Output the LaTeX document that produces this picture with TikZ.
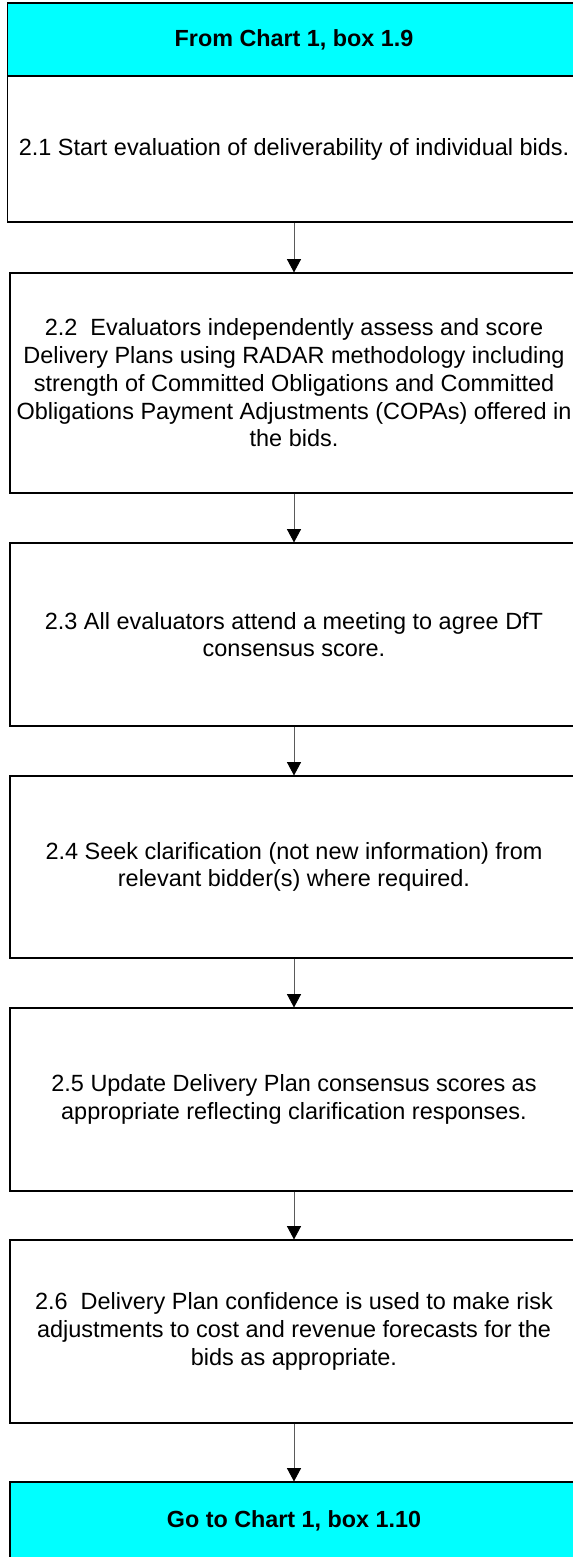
\documentclass[tikz,border=0pt]{standalone}
\usepackage{fontspec}
\setmainfont{Liberation Sans}
\usetikzlibrary{arrows.meta,positioning}
\definecolor{boxcyan}{RGB}{0,255,255}
\definecolor{arrowgrey}{RGB}{90,90,90}

\begin{document}
\begin{tikzpicture}[x=0.75pt, y=-0.75pt]
\tikzset{
    stepbox/.style={draw, line width=0.8pt, minimum width=426pt, inner sep=0pt,
        align=center, font=\fontsize{17.6}{20.8}\selectfont},
    chartbox/.style={stepbox, fill=boxcyan, minimum width=429.75pt,
        font=\fontsize{17.5}{20.8}\selectfont\bfseries},
    flowarrow/.style={arrowgrey, line width=0.7pt,
        -{Triangle[length=10pt, width=10.5pt, fill=black, color=black]}}
}

\useasboundingbox (0,0) rectangle (573,1557);
\clip (0,0) rectangle (573,1557);

\node[chartbox, minimum height=54.75pt] (from) at (294, 39.5) {From Chart 1, box 1.9};
\node[stepbox, minimum width=429.75pt, minimum height=109.5pt] (s21) at (294, 149) {2.1 Start evaluation of deliverability of individual bids.};
\node[stepbox, minimum height=165pt] (s22) at (294, 383) {2.2\ \ Evaluators independently assess and score\\Delivery Plans using RADAR methodology including\\strength of Committed Obligations and Committed\\Obligations Payment Adjustments (COPAs) offered in\\the bids.};
\node[stepbox, minimum height=137.25pt] (s23) at (294, 634.5) {2.3 All evaluators attend a meeting to agree DfT\\consensus score.};
\node[stepbox, minimum height=136.5pt] (s24) at (294, 867) {2.4 Seek clarification (not new information) from\\relevant bidder(s) where required.};
\node[stepbox, minimum height=137.25pt] (s25) at (294, 1099.5) {2.5 Update Delivery Plan consensus scores as\\appropriate reflecting clarification responses.};
\node[stepbox, minimum height=137.25pt] (s26) at (294, 1331.5) {2.6\ \ Delivery Plan confidence is used to make risk\\adjustments to cost and revenue forecasts for the\\bids as appropriate.};
\node[chartbox, minimum width=426pt, minimum height=58.5pt] (goto) at (294, 1521) {Go to Chart 1, box 1.10};

\draw[flowarrow] (s21) -- (s22);
\draw[flowarrow] (s22) -- (s23);
\draw[flowarrow] (s23) -- (s24);
\draw[flowarrow] (s24) -- (s25);
\draw[flowarrow] (s25) -- (s26);
\draw[flowarrow] (s26) -- (goto);

\end{tikzpicture}
\end{document}
